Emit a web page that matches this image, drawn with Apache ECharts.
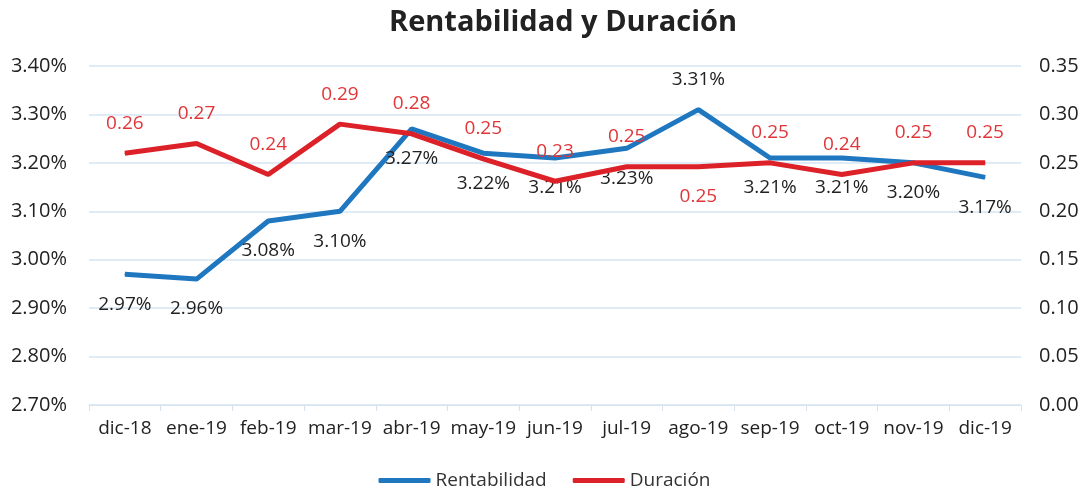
<!DOCTYPE html>
<html>
<head>
<meta charset="utf-8">
<script src="https://cdn.jsdelivr.net/npm/echarts@6/dist/echarts.min.js"></script>
<style>
  html, body { margin: 0; padding: 0; background: #fff; }
  #chart { width: 1089px; height: 497px; }
</style>
</head>
<body>
<div id="chart"></div>
<script>
const categories = ['dic-18', 'ene-19', 'feb-19', 'mar-19', 'abr-19', 'may-19', 'jun-19',
  'jul-19', 'ago-19', 'sep-19', 'oct-19', 'nov-19', 'dic-19']
const rentabilidad = [2.97, 2.96, 3.08, 3.10, 3.27, 3.22, 3.21, 3.23, 3.31, 3.21, 3.21, 3.20, 3.17]
const duracion = [0.26, 0.27, 0.238, 0.29, 0.28, 0.254, 0.231, 0.246, 0.246, 0.25, 0.238, 0.25, 0.25]

// label placement per point (style only)
const rentLabelPos = categories.map((c, i) => i === 8 ? 'top' : 'bottom')
const durLabelPos = categories.map((c, i) => i === 8 ? 'bottom' : 'top')

const font = 'Open Sans'
const blue = '#1f77c0'
const red = '#dc2128'

const chart = echarts.init(document.getElementById('chart'))

const option = {
  backgroundColor: '#fff',
  animation: false,
  title: {
    text: 'Rentabilidad y Duración',
    left: 384,
    top: 3,
    textStyle: { fontFamily: font, fontSize: 29, fontWeight: 'bold', color: '#222' }
  },
  legend: {
    bottom: 2,
    left: 'center',
    itemWidth: 52,
    itemHeight: 5,
    itemGap: 26,
    icon: 'roundRect',
    textStyle: { fontFamily: font, fontSize: 19, color: '#333' },
    data: ['Rentabilidad', 'Duración']
  },
  grid: { left: 89, right: 68, top: 66, bottom: 92 },
  xAxis: {
    type: 'category',
    data: categories,
    axisLine: { lineStyle: { color: '#d6e3ee' } },
    axisTick: { show: true, length: 6, lineStyle: { color: '#d6e3ee' } },
    axisLabel: { interval: 0, fontFamily: font, fontSize: 19, color: '#222', margin: 14 }
  },
  yAxis: [{
    type: 'value',
    min: 2.7,
    max: 3.4,
    interval: 0.1,
    axisLine: { show: false },
    axisTick: { show: false },
    splitLine: { lineStyle: { color: '#d6e6f2', width: 1.5 } },
    axisLabel: {
      fontFamily: font, fontSize: 20, color: '#222', margin: 22,
      formatter: v => v.toFixed(2) + '%'
    }
  }, {
    type: 'value',
    min: 0,
    max: 0.35,
    interval: 0.05,
    axisLine: { show: false },
    axisTick: { show: false },
    splitLine: { show: false },
    axisLabel: {
      fontFamily: font, fontSize: 20, color: '#222', margin: 18,
      formatter: v => v.toFixed(2)
    }
  }],
  series: [{
    name: 'Rentabilidad',
    type: 'line',
    yAxisIndex: 0,
    symbol: 'circle',
    symbolSize: 1,
    showSymbol: true,
    lineStyle: { color: blue, width: 5 },
    itemStyle: { color: blue },
    z: 2,
    data: rentabilidad.map((v, i) => ({
      value: v,
      label: { position: rentLabelPos[i] }
    })),
    label: {
      show: true,
      distance: 20,
      fontFamily: font,
      fontSize: 19,
      color: '#222',
      formatter: p => p.value.toFixed(2) + '%'
    }
  }, {
    name: 'Duración',
    type: 'line',
    yAxisIndex: 1,
    symbol: 'circle',
    symbolSize: 1,
    showSymbol: true,
    lineStyle: { color: red, width: 5 },
    itemStyle: { color: red },
    z: 3,
    data: duracion.map((v, i) => ({
      value: v,
      label: { position: durLabelPos[i] }
    })),
    label: {
      show: true,
      distance: 20,
      fontFamily: font,
      fontSize: 19,
      color: '#e0363a',
      formatter: p => p.value.toFixed(2)
    }
  }]
}

chart.setOption(option)
</script>
</body>
</html>
